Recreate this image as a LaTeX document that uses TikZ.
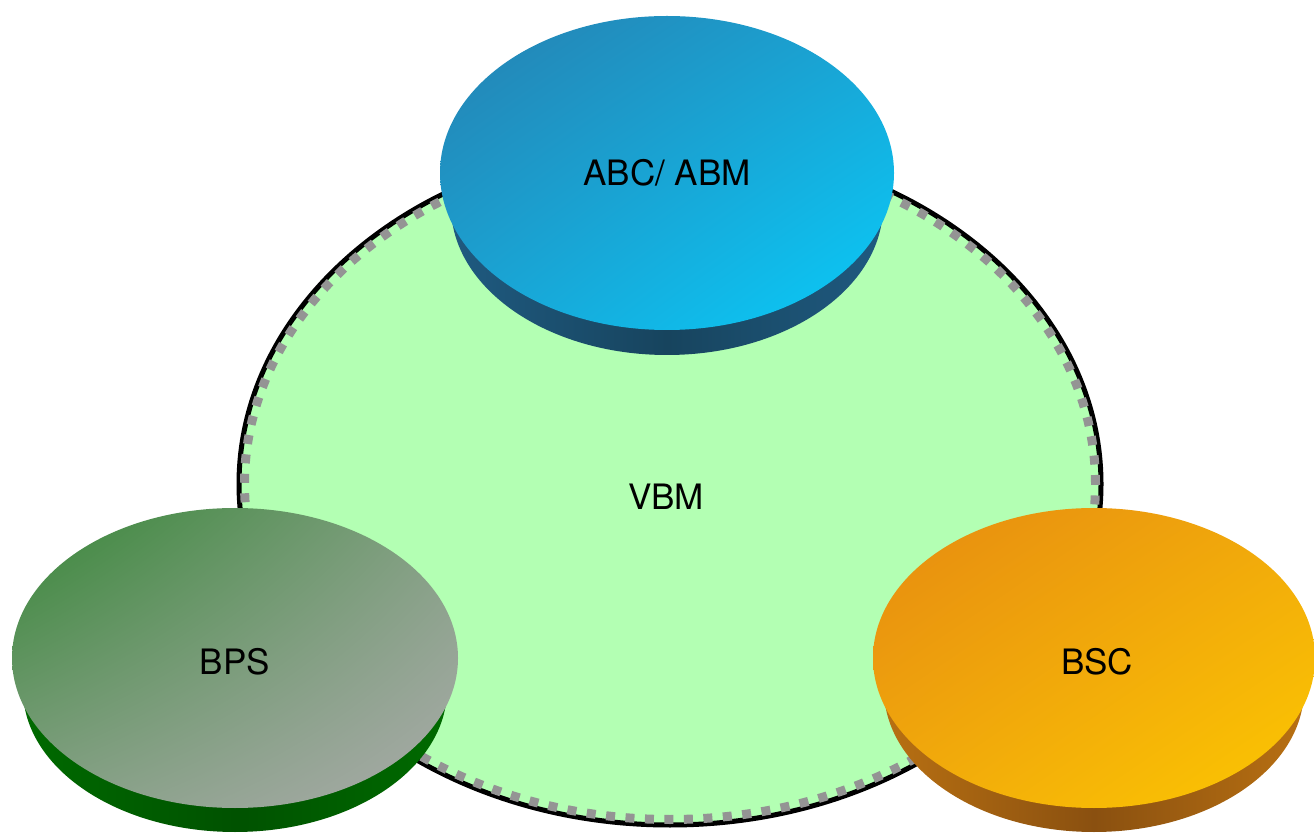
\documentclass[tikz,border=0pt]{standalone}
\usepackage{fontspec}
\setmainfont{TeX Gyre Heros}
\usetikzlibrary{shadings}
\begin{document}
\begin{tikzpicture}[x=1pt,y=1pt,
  lbl/.style={font=\fontsize{35}{42}\selectfont, text=black},
  rim/.style={line width=5pt, black},
  rimdash/.style={line width=9pt, draw=black!42, dash pattern=on 9pt off 10.5pt}]
\definecolor{vbmgreen}{HTML}{B3FFB3}
\definecolor{blueA}{HTML}{2680B0}
\definecolor{blueB}{HTML}{08CCFA}
\definecolor{blueM}{HTML}{1AA4D4}
\definecolor{blueS}{HTML}{1F5A80}
\definecolor{blueD}{HTML}{17445E}
\definecolor{greenA}{HTML}{368636}
\definecolor{greenB}{HTML}{ABABAB}
\definecolor{greenM}{HTML}{84A084}
\definecolor{greenS}{HTML}{006A00}
\definecolor{greenD}{HTML}{005200}
\definecolor{orA}{HTML}{E68A10}
\definecolor{orB}{HTML}{FDC800}
\definecolor{orM}{HTML}{F1AA0C}
\definecolor{orS}{HTML}{B87012}
\definecolor{orD}{HTML}{8A5010}
\useasboundingbox (0,0) rectangle (1314,833);
% big ellipse
\fill[vbmgreen] (670,349) ellipse[x radius=431, y radius=341];
\draw[rim] (670,349) ellipse[x radius=431, y radius=341];
\draw[rimdash] (670,349) ellipse[x radius=425.5, y radius=335.5];
\node[lbl] (vbm) at (666,336) {VBM};
% ABC / ABM disk
\shade[left color=blueS, right color=blueS, middle color=blueD]
  (667,627) ellipse[x radius=216, y radius=149];
\shade[upper left=blueA, lower right=blueB, upper right=blueM, lower left=blueM]
  (667,660) ellipse[x radius=227, y radius=157];
\node[lbl] (abc) at (667,660) {ABC/ ABM};
% BPS disk
\shade[left color=greenS, right color=greenS, middle color=greenD]
  (235,143.5) ellipse[x radius=212, y radius=142.5];
\shade[upper left=greenA, lower right=greenB, upper right=greenM, lower left=greenM]
  (235,175) ellipse[x radius=223, y radius=150];
\node[lbl] (bps) at (235,171) {BPS};
% BSC disk
\shade[left color=orS, right color=orS, middle color=orD]
  (1094,143.5) ellipse[x radius=210, y radius=142.5];
\shade[upper left=orA, lower right=orB, upper right=orM, lower left=orM]
  (1094,175) ellipse[x radius=221, y radius=150];
\node[lbl] (bsc) at (1097,171) {BSC};
\end{tikzpicture}
\end{document}
